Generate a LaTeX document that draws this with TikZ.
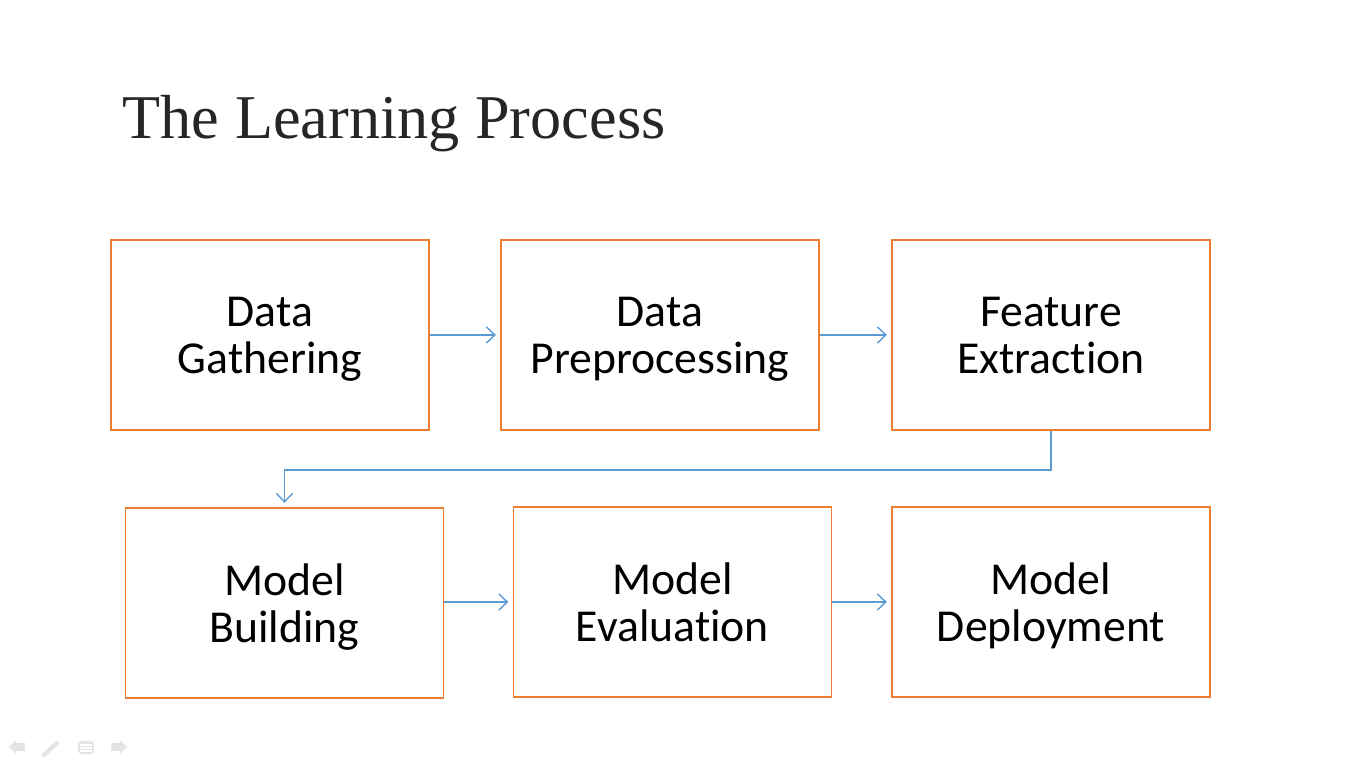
\documentclass[tikz,border=0pt]{standalone}
\usepackage{fontspec}
\setmainfont{Carlito}[Ligatures=NoCommon]
\newfontfamily\titlefont{Liberation Serif}
\usetikzlibrary{arrows.meta}
\definecolor{boxorange}{HTML}{ED7D31}
\definecolor{linkblue}{HTML}{5B9BD5}
\definecolor{titlegray}{HTML}{262626}
\definecolor{navgray}{HTML}{E4E4E4}
\begin{document}
\begin{tikzpicture}[x=0.01cm,y=-0.01cm,
  stepbox/.style={draw=boxorange, line width=0.5pt, minimum width=3.18cm, minimum height=1.90cm,
    align=center, font=\fontsize{13}{13.4}\selectfont, text depth=0pt,
    execute at begin node=\strut, execute at end node=\strut},
  link/.style={draw=linkblue, line width=0.4pt, -{Straight Barb[length=2.4pt,width=4.6pt]}, shorten >=1.2pt}]
\useasboundingbox (0,0) rectangle (1366,768);
\node[anchor=base west, inner sep=0pt, text=titlegray, font=\titlefont\fontsize{17.7}{21}\selectfont] (title) at (122,139) {The Learning Process};
\node[stepbox] (gather) at (270,335) {Data\\Gathering};
\node[stepbox] (prep) at (660,335) {Data\\Preprocessing};
\node[stepbox] (feat) at (1051,335) {Feature\\Extraction};
\node[stepbox] (build) at (284.5,603) {Model\\Building};
\node[stepbox] (eval) at (672.5,602) {Model\\Evaluation};
\node[stepbox] (deploy) at (1051,602) {Model\\Deployment};
\draw[link] (gather) -- (prep);
\draw[link] (prep) -- (feat);
\draw[link] (feat.south) -- ++(0,39) -| (build.north);
\draw[link] (build.east |- eval) -- (eval);
\draw[link] (eval) -- (deploy);
\fill[navgray] (9,747) -- (16,740) -- (16,743) -- (25,743) -- (25,751) -- (16,751) -- (16,754) -- cycle;
\draw[navgray, line width=1.2pt, line cap=round] (44,755) -- (57,743);
\fill[navgray, rounded corners=1pt] (78,741) rectangle (94,754);
\draw[white, line width=0.5pt] (80,745) -- (92,745) (80,748) -- (92,748) (80,751) -- (92,751);
\fill[navgray] (127,747) -- (120,740) -- (120,743) -- (111,743) -- (111,751) -- (120,751) -- (120,754) -- cycle;
\end{tikzpicture}
\end{document}
